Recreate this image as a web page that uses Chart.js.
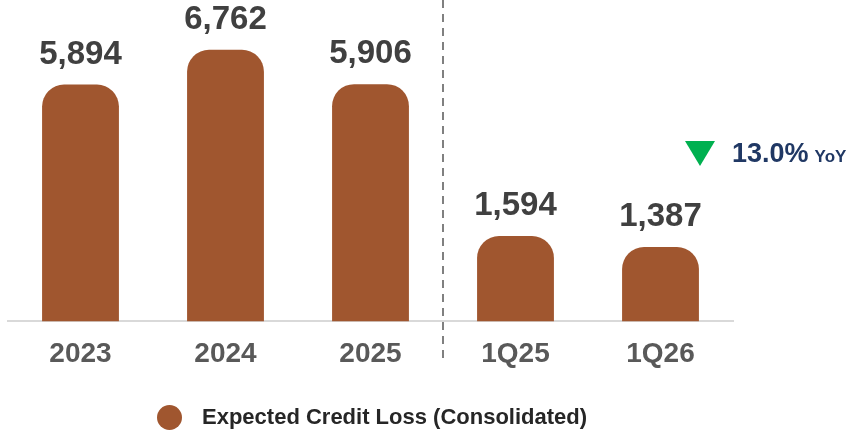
<!DOCTYPE html>
<html>
<head>
<meta charset="utf-8">
<script src="https://cdn.jsdelivr.net/npm/chart.js@4.4.0/dist/chart.umd.min.js"></script>
<style>
  html, body { margin: 0; padding: 0; background: #fff; }
  #wrap { position: relative; width: 856px; height: 430px; font-family: "Liberation Sans", Arial, sans-serif; }
  #chart { position: absolute; left: 0; top: 0; }
  .yoy { position: absolute; left: 685px; top: 138px; display: flex; align-items: baseline; font-weight: bold; color: #203864; }
  .yoy .tri { width: 0; height: 0; border-left: 15px solid transparent; border-right: 15px solid transparent; border-top: 25px solid #00B050; margin-right: 17px; align-self: center; }
  .yoy .pct { font-size: 27px; }
  .yoy .unit { font-size: 17px; margin-left: 6px; }
  .legend { position: absolute; left: 157px; top: 404px; display: flex; align-items: center; font-weight: bold; font-size: 22px; color: #262626; }
  .legend .dot { width: 25px; height: 25px; border-radius: 50%; background: #A0562F; margin-right: 20px; }
</style>
</head>
<body>
<div id="wrap">
  <canvas id="chart" width="856" height="430"></canvas>
  <div class="yoy"><span class="tri"></span><span class="pct">13.0%</span><span class="unit">YoY</span></div>
  <div class="legend"><span class="dot"></span><span>Expected Credit Loss (Consolidated)</span></div>
</div>
<script>
const categories = ['2023', '2024', '2025', '1Q25', '1Q26'];
const annualValues = [5894, 6762, 5906, null, null];
const quarterlyValues = [null, null, null, 1594, 1387];
const seriesName = 'Expected Credit Loss (Consolidated)';

const barColor = '#A0562F';
const formatNumber = v => v.toLocaleString('en-US');

const valueLabels = {
  id: 'valueLabels',
  afterDatasetsDraw(chart) {
    const ctx = chart.ctx;
    ctx.save();
    ctx.font = 'bold 33px "Liberation Sans", Arial, sans-serif';
    ctx.fillStyle = '#404040';
    ctx.textAlign = 'center';
    ctx.textBaseline = 'middle';
    chart.data.datasets.forEach((ds, i) => {
      chart.getDatasetMeta(i).data.forEach((bar, j) => {
        const v = ds.data[j];
        if (v == null) return;
        ctx.fillText(formatNumber(v), bar.x, bar.y - 30);
      });
    });
    ctx.restore();
  }
};

const divider = {
  id: 'divider',
  afterDraw(chart) {
    const x = chart.scales.x;
    const px = (x.getPixelForValue(2) + x.getPixelForValue(3)) / 2;
    const ctx = chart.ctx;
    ctx.save();
    ctx.strokeStyle = '#808080';
    ctx.lineWidth = 2;
    ctx.setLineDash([8, 6]);
    ctx.beginPath();
    ctx.moveTo(px, 0);
    ctx.lineTo(px, 362);
    ctx.stroke();
    ctx.restore();
  }
};

const barStyle = {
  backgroundColor: barColor,
  borderRadius: { topLeft: 22, topRight: 22 },
  borderSkipped: 'bottom',
  grouped: false,
  barPercentage: 0.53,
  categoryPercentage: 1
};

new Chart(document.getElementById('chart').getContext('2d'), {
  type: 'bar',
  data: {
    labels: categories,
    datasets: [
      { label: seriesName, data: annualValues, yAxisID: 'y', ...barStyle },
      { label: seriesName, data: quarterlyValues, yAxisID: 'y2', ...barStyle }
    ]
  },
  options: {
    responsive: false,
    animation: false,
    layout: { padding: { left: 8, right: 123, top: 0, bottom: 43 } },
    plugins: { legend: { display: false }, tooltip: { enabled: false } },
    scales: {
      x: {
        grid: { display: false, drawTicks: false },
        border: { display: true, color: '#d9d9d9', width: 2 },
        ticks: { color: '#595959', padding: 16, font: { family: '"Liberation Sans", Arial, sans-serif', size: 28, weight: 'bold' } }
      },
      y: { display: false, min: 0, max: 8000 },
      y2: { display: false, min: 0, max: 6000 }
    }
  },
  plugins: [valueLabels, divider]
});
</script>
</body>
</html>
